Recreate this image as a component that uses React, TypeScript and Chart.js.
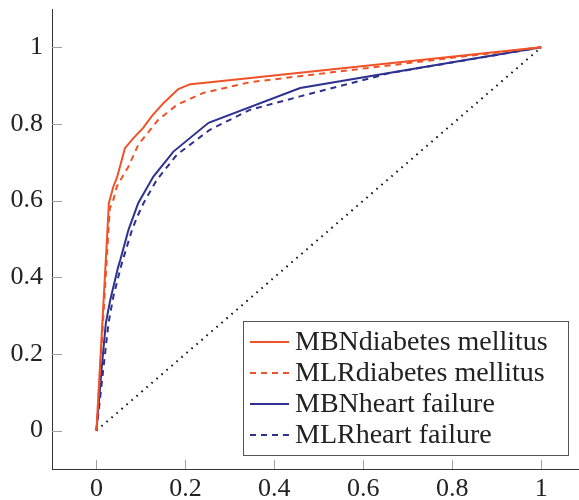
import React, { useEffect, useRef } from "react";
import { Chart, registerables } from "chart.js";
Chart.register(...registerables);

const xTicks = [0, 0.2, 0.4, 0.6, 0.8, 1];
const yTicks = [0, 0.2, 0.4, 0.6, 0.8, 1];
const seriesLabels = ["MBNdiabetes mellitus", "MLRdiabetes mellitus", "MBNheart failure", "MLRheart failure"];

const mbnDiabetesX = [0, 0.028, 0.038, 0.046, 0.064, 0.083, 0.105, 0.124, 0.151, 0.184, 0.211, 0.25, 1];
const mbnDiabetesY = [0, 0.594, 0.637, 0.66, 0.737, 0.763, 0.79, 0.82, 0.855, 0.891, 0.904, 0.908, 1];

const mlrDiabetesX = [0, 0.03, 0.038, 0.046, 0.061, 0.072, 0.094, 0.139, 0.181, 0.24, 0.345, 0.795, 1];
const mlrDiabetesY = [0, 0.58, 0.602, 0.637, 0.668, 0.689, 0.746, 0.811, 0.85, 0.881, 0.909, 0.972, 1];

const mbnHeartX = [0, 0.012, 0.021, 0.031, 0.049, 0.0535, 0.072, 0.083, 0.094, 0.128, 0.173, 0.252, 0.458, 1];
const mbnHeartY = [0, 0.167, 0.28, 0.341, 0.428, 0.445, 0.524, 0.559, 0.594, 0.663, 0.728, 0.803, 0.894, 1];

const mlrHeartX = [0, 0.016, 0.027, 0.038, 0.057, 0.08, 0.092, 0.106, 0.136, 0.181, 0.255, 0.345, 0.458, 0.66, 1];
const mlrHeartY = [0, 0.167, 0.28, 0.35, 0.437, 0.524, 0.559, 0.594, 0.655, 0.72, 0.785, 0.837, 0.872, 0.933, 1];

const diagonalX = [0, 1];
const diagonalY = [0, 1];

const ORANGE = "#F05228";
const BLUE = "#2D3190";
const FONT = '"Liberation Serif"';

const pts = (xs: number[], ys: number[]) => xs.map((x, i) => ({ x, y: ys[i] }));
const fmt = (v: number) => (v === 0 ? "0" : v === 1 ? "1" : String(v));

const tickMarksPlugin = {
  id: "tickMarks",
  afterDraw(chart: any) {
    const { ctx, chartArea, scales } = chart;
    ctx.save();
    ctx.strokeStyle = "#a0a0a0";
    ctx.lineWidth = 1;
    ctx.beginPath();
    yTicks.forEach((v) => {
      const py = Math.round(scales.y.getPixelForValue(v)) + 0.5;
      ctx.moveTo(chartArea.left, py);
      ctx.lineTo(chartArea.left + 10, py);
    });
    xTicks.forEach((v) => {
      const px = Math.round(scales.x.getPixelForValue(v)) + 0.5;
      ctx.moveTo(px, chartArea.bottom);
      ctx.lineTo(px, chartArea.bottom - 9);
    });
    ctx.stroke();
    ctx.restore();
  },
};

const legendBoxPlugin = {
  id: "legendBox",
  afterDatasetsDraw(chart: any) {
    const { ctx, chartArea } = chart;
    const left = chartArea.right - 336;
    const top = chartArea.bottom - 148;
    const w = 325;
    const h = 134;
    ctx.save();
    ctx.fillStyle = "#ffffff";
    ctx.fillRect(left, top, w, h);
    ctx.strokeStyle = "#555555";
    ctx.lineWidth = 1;
    ctx.strokeRect(Math.round(left) + 0.5, Math.round(top) + 0.5, w, h);
    const dsList = chart.data.datasets.slice(0, 4);
    dsList.forEach((ds: any, i: number) => {
      const cy = top + 21 + i * 31;
      ctx.strokeStyle = ds.borderColor;
      ctx.lineWidth = 2;
      ctx.setLineDash(ds.borderDash || []);
      ctx.beginPath();
      ctx.moveTo(left + 7, cy);
      ctx.lineTo(left + 46, cy);
      ctx.stroke();
      ctx.setLineDash([]);
      ctx.fillStyle = "#222222";
      ctx.font = `28px ${FONT}`;
      ctx.textBaseline = "middle";
      ctx.textAlign = "left";
      ctx.fillText(ds.label, left + 52, cy + 1);
    });
    ctx.restore();
  },
};

export default function App() {
  const ref = useRef<HTMLCanvasElement | null>(null);
  useEffect(() => {
    document.body.style.margin = "0";
    const canvas = ref.current;
    if (!canvas) return;
    let chart: any = null;
    let cancelled = false;
    const line = (label: string, data: any, color: string, dash: number[]) => ({
      label,
      data,
      borderColor: color,
      backgroundColor: color,
      borderWidth: 2,
      borderDash: dash,
      pointRadius: 0,
      tension: 0,
      fill: false,
    });
    const build = () => {
      if (cancelled || chart) return;
      chart = new Chart(canvas, {
        type: "line",
        data: {
          datasets: [
            line(seriesLabels[0], pts(mbnDiabetesX, mbnDiabetesY), ORANGE, []),
            line(seriesLabels[1], pts(mlrDiabetesX, mlrDiabetesY), ORANGE, [6, 5]),
            line(seriesLabels[2], pts(mbnHeartX, mbnHeartY), BLUE, []),
            line(seriesLabels[3], pts(mlrHeartX, mlrHeartY), BLUE, [6, 5]),
            {
              label: "diag",
              data: pts(diagonalX, diagonalY),
              borderColor: "#111111",
              borderWidth: 2,
              borderDash: [1.6, 5],
              pointRadius: 0,
              tension: 0,
              fill: false,
            },
          ],
        },
        options: {
          animation: false,
          responsive: false,
          maintainAspectRatio: false,
          layout: { padding: { top: 9, right: 0, left: 0, bottom: 0 } },
          plugins: { legend: { display: false }, tooltip: { enabled: false } },
          scales: {
            x: {
              type: "linear",
              min: -0.1,
              max: 1.085,
              grid: { display: false, drawTicks: false },
              border: { display: true, color: "#333333", width: 1 },
              ticks: {
                padding: 5,
                color: "#222222",
                font: { family: FONT, size: 26 },
                callback: (v: any) => fmt(Number(v)),
                maxRotation: 0,
              },
              afterBuildTicks: (s: any) => {
                s.ticks = xTicks.map((v) => ({ value: v }));
              },
              afterFit: (s: any) => {
                s.height = 31;
                s.paddingLeft = 0;
                s.paddingRight = 0;
              },
            },
            y: {
              type: "linear",
              min: -0.1,
              max: 1.1,
              grid: { display: false, drawTicks: false },
              border: { display: true, color: "#333333", width: 1 },
              ticks: {
                padding: 9,
                color: "#222222",
                font: { family: FONT, size: 26 },
                callback: (v: any) => fmt(Number(v)),
              },
              afterBuildTicks: (s: any) => {
                s.ticks = yTicks.map((v) => ({ value: v }));
              },
              afterFit: (s: any) => {
                s.width = 52;
                s.paddingTop = 0;
                s.paddingBottom = 0;
              },
            },
          },
        },
        plugins: [tickMarksPlugin, legendBoxPlugin],
      });
    };
    const fonts: any = (document as any).fonts;
    const fallbackTimer = window.setTimeout(build, 400);
    if (fonts && fonts.load) {
      Promise.all([fonts.load('26px "Liberation Serif"'), fonts.load('28px "Liberation Serif"')])
        .then(() => (fonts.ready ? fonts.ready : null))
        .catch(() => null)
        .then(() => {
          window.clearTimeout(fallbackTimer);
          build();
        });
    } else {
      window.clearTimeout(fallbackTimer);
      build();
    }
    return () => {
      cancelled = true;
      window.clearTimeout(fallbackTimer);
      if (chart) chart.destroy();
    };
  }, []);
  return (
    <div style={{ position: "relative", width: 579, height: 500 }}>
      <canvas ref={ref} width={579} height={500} style={{ display: "block", width: 579, height: 500 }} />
      <span
        aria-hidden="true"
        style={{ position: "absolute", left: 0, top: 0, visibility: "hidden", fontFamily: FONT, fontSize: 26 }}
      >
        0.8 MBNdiabetes mellitus
      </span>
    </div>
  );
}
